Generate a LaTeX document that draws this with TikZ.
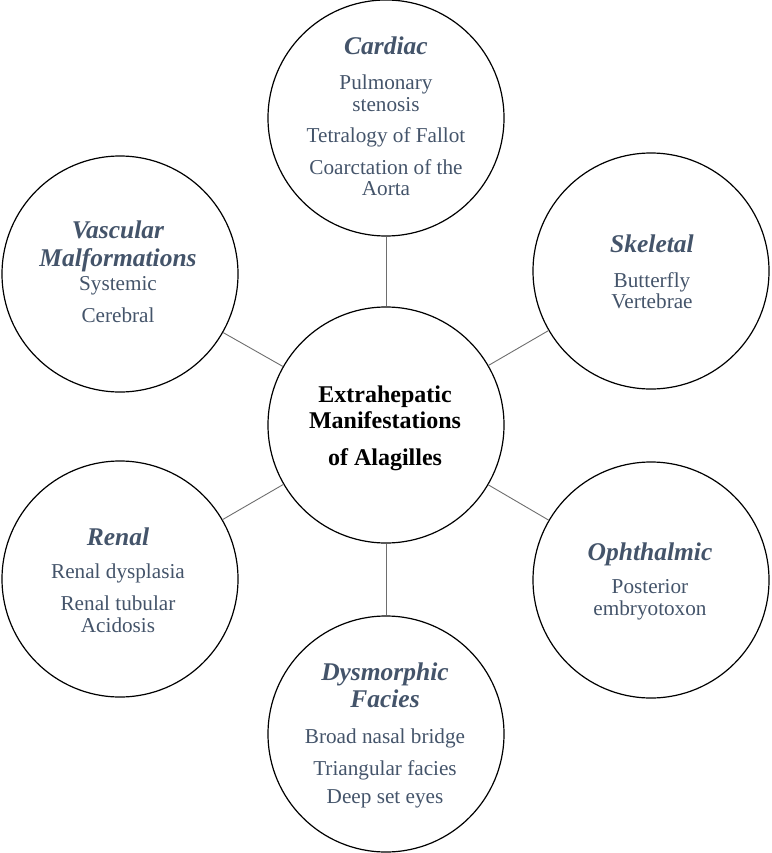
\documentclass[tikz,border=0pt]{standalone}
\usepackage{fontspec}
\setmainfont{Liberation Serif}
\definecolor{slate}{HTML}{44546A}
\definecolor{linkgray}{HTML}{6E6E6E}
\tikzset{
  bubble/.style={circle, draw=black, line width=1.2pt, inner sep=0pt, minimum size=236pt},
  hub/.style={circle, draw=black, line width=1.2pt, inner sep=0pt, minimum size=236pt},
  link/.style={draw=linkgray, line width=0.9pt},
  head/.style={anchor=base, inner sep=0pt, text=slate, font=\fontsize{25.5}{28}\selectfont\bfseries\itshape},
  item/.style={anchor=base, inner sep=0pt, text=slate, font=\fontsize{21.2}{22}\selectfont},
  hubtext/.style={anchor=base, inner sep=0pt, text=black, font=\fontsize{24}{26}\selectfont\bfseries}
}
\begin{document}
\begin{tikzpicture}[x=1pt,y=-1pt]
\useasboundingbox (0,0) rectangle (771,853);
% circles
\node[hub] (hubc) at (386,425) {};
\node[bubble] (card) at (386,118) {};
\node[bubble] (vasc) at (120,274) {};
\node[bubble] (skel) at (651,271) {};
\node[bubble] (ren) at (120,579) {};
\node[bubble] (oph) at (651,580) {};
\node[bubble] (dys) at (386,734) {};
% connectors
\draw[link] (card) -- (hubc);
\draw[link] (vasc) -- (hubc);
\draw[link] (skel) -- (hubc);
\draw[link] (ren) -- (hubc);
\draw[link] (oph) -- (hubc);
\draw[link] (dys) -- (hubc);
% hub text
\node[hubtext] (h1) at (385,402) {Extrahepatic};
\node[hubtext] (h2) at (385,428) {Manifestations};
\node[hubtext] (h3) at (385,465) {of Alagilles};
% cardiac
\node[head] (c0) at (386,55) {Cardiac};
\node[item] (c1) at (386,90) {Pulmonary};
\node[item] (c2) at (386,112) {stenosis};
\node[item] (c3) at (386,143) {Tetralogy of Fallot};
\node[item] (c4) at (386,175) {Coarctation of the};
\node[item] (c5) at (386,196) {Aorta};
% vascular
\node[head] (v0) at (118,238) {Vascular};
\node[head] (v1) at (118,266) {Malformations};
\node[item] (v2) at (118,290) {Systemic};
\node[item] (v3) at (118,322) {Cerebral};
% skeletal
\node[head] (s0) at (652,252) {Skeletal};
\node[item] (s1) at (652,287) {Butterfly};
\node[item] (s2) at (652,308) {Vertebrae};
% renal
\node[head] (r0) at (118,545) {Renal};
\node[item] (r1) at (118,578) {Renal dysplasia};
\node[item] (r2) at (118,610) {Renal tubular};
\node[item] (r3) at (118,632) {Acidosis};
% ophthalmic
\node[head] (o0) at (650,560) {Ophthalmic};
\node[item] (o1) at (650,593) {Posterior};
\node[item] (o2) at (650,615) {embryotoxon};
% dysmorphic
\node[head] (d0) at (385,680) {Dysmorphic};
\node[head] (d1) at (385,707) {Facies};
\node[item] (d2) at (385,743) {Broad nasal bridge};
\node[item] (d3) at (385,775) {Triangular facies};
\node[item] (d4) at (385,803) {Deep set eyes};
\end{tikzpicture}
\end{document}
